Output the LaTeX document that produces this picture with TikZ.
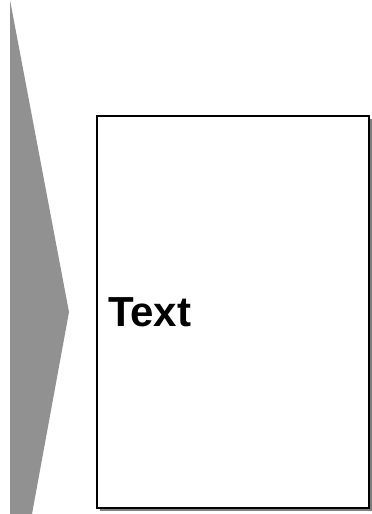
\documentclass[tikz,border=0pt]{standalone}
\usepackage{fontspec}
\setmainfont{Liberation Sans}
\usetikzlibrary{shadows}
\tikzset{
  textbox/.style={draw=black, line width=2.2pt, fill=white,
    minimum width=272pt, minimum height=392pt, inner sep=0pt,
    text width=250pt, align=left, font=\bfseries\fontsize{42}{46}\selectfont,
    drop shadow={shadow xshift=3pt, shadow yshift=-3pt, fill=black, opacity=0.5}},
  chevron/.style={fill=black!43, draw=none}
}
\begin{document}
\begin{tikzpicture}[x=1pt,y=-1pt]
\useasboundingbox (0,0) rectangle (372,514);
\fill[chevron] (10,0) -- (69,312) -- (32,514) -- (10,514) -- cycle;
\node[textbox] (box) at (233,312) {Text};
\end{tikzpicture}
\end{document}
